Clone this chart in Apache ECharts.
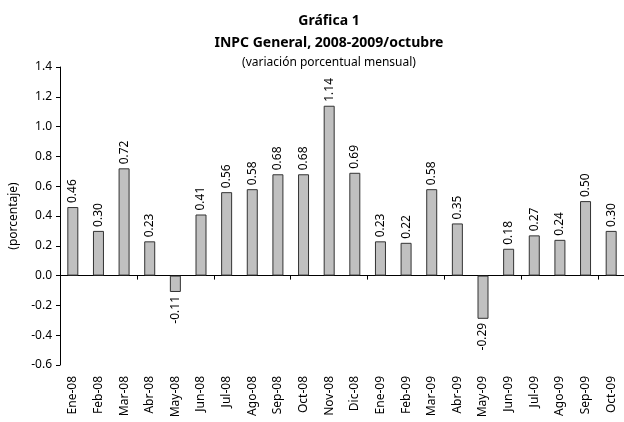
<!DOCTYPE html>
<html><head><meta charset="utf-8">
<script src="https://cdn.jsdelivr.net/npm/echarts@6/dist/echarts.min.js"></script>
<style>html,body{margin:0;padding:0;background:#fff}#c{width:624px;height:422px}</style>
</head><body><div id="c"></div>
<script>
const categories = ["Ene-08","Feb-08","Mar-08","Abr-08","May-08","Jun-08","Jul-08","Ago-08","Sep-08","Oct-08","Nov-08","Dic-08","Ene-09","Feb-09","Mar-09","Abr-09","May-09","Jun-09","Jul-09","Ago-09","Sep-09","Oct-09"];
const values = [0.46,0.30,0.72,0.23,-0.11,0.41,0.56,0.58,0.68,0.68,1.14,0.69,0.23,0.22,0.58,0.35,-0.29,0.18,0.27,0.24,0.50,0.30];
const titleLines = ["Gráfica 1","INPC General, 2008-2009/octubre"];
const subtitle = "(variación porcentual mensual)";
const yName = "(porcentaje)";

const FONT = "Noto Sans";
const chart = echarts.init(document.getElementById('c'), null, {renderer:'canvas'});
const data = values.map(v => ({
  value: v,
  label: v < 0 ? {position:'bottom', align:'right'} : {position:'top', align:'left'}
}));
chart.setOption({
  animation:false,
  textStyle:{fontFamily:FONT},
  title:[
    {text:titleLines.join('\n'), left:324, top:5, textAlign:'center',
     textStyle:{fontFamily:FONT, fontWeight:'bold', fontSize:14, color:'#000', lineHeight:22}},
    {text:subtitle, left:324, top:52, textAlign:'center',
     textStyle:{fontFamily:FONT, fontWeight:'normal', fontSize:12, color:'#000'}}
  ],
  grid:{left:59, top:67, width:573, height:298, containLabel:false},
  xAxis:[
    {type:'category', data:categories, position:'bottom',
     axisLine:{onZero:true, lineStyle:{color:'#000', width:1}},
     axisTick:{show:true, alignWithLabel:false, length:4, lineStyle:{color:'#000'}},
     axisLabel:{show:false}},
    {type:'category', data:categories, position:'bottom',
     axisLine:{show:false, onZero:false}, axisTick:{show:false},
     axisLabel:{rotate:90, margin:11, fontSize:12, color:'#000', fontFamily:FONT}}
  ],
  yAxis:{type:'value', min:-0.6, max:1.4, interval:0.2, name:yName, nameLocation:'middle', nameGap:40,
    nameTextStyle:{fontSize:12, color:'#000', fontFamily:FONT},
    axisLine:{show:true, lineStyle:{color:'#000'}},
    axisTick:{show:true, length:4, lineStyle:{color:'#000'}},
    splitLine:{show:false},
    axisLabel:{formatter:v=>v.toFixed(1), fontSize:12, color:'#000', margin:8, fontFamily:FONT}},
  series:[{type:'bar', xAxisIndex:0, data:data, barWidth:11,
    itemStyle:{color:'#c0c0c0', borderColor:'#333', borderWidth:1},
    label:{show:true, rotate:90, distance:4, verticalAlign:'middle', fontSize:12, color:'#000', fontFamily:FONT,
      formatter:p=>p.value.toFixed(2)}}]
});
</script></body></html>
